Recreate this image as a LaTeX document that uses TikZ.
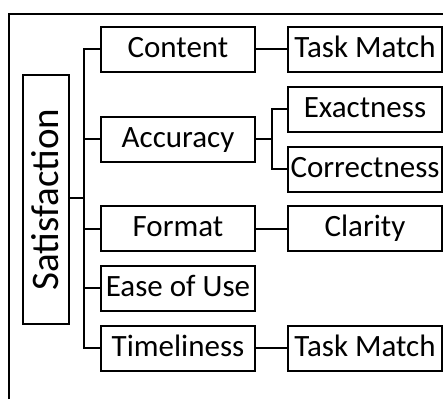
\documentclass[tikz,border=0pt]{standalone}
\usepackage{fontspec}
\setmainfont{Carlito}
\begin{document}
\begin{tikzpicture}[x=1pt,y=-1pt,
  box/.style={draw, line width=2pt, minimum width=154pt, minimum height=45pt, inner sep=0pt, text height=22pt, text depth=6pt, font=\fontsize{31}{36}\selectfont},
  rootbox/.style={draw, line width=2pt, minimum width=249pt, minimum height=46pt, inner sep=0pt, text height=27pt, text depth=2pt, rotate=90, font=\fontsize{39}{44}\selectfont},
  link/.style={line width=2pt}]
\useasboundingbox (0,0) rectangle (443,399);
\draw[line width=2pt] (9,399) -- (9,14) -- (443,14);
\node[rootbox] (sat) at (45.5,199.5) {Satisfaction};
\node[box] (content) at (178,49) {Content};
\node[box] (tm1) at (365,49) {Task Match};
\node[box] (acc) at (178,139) {Accuracy};
\node[box] (exa) at (365,109) {Exactness};
\node[box] (cor) at (365,169) {Correctness};
\node[box] (fmt) at (178,228.5) {Format};
\node[box] (cla) at (365,228.5) {Clarity};
\node[box] (ease) at (178,288) {Ease of Use};
\node[box] (tim) at (178,348) {Timeliness};
\node[box] (tm2) at (365,348) {Task Match};
\coordinate (trunk) at (84,198);
\coordinate (sub) at (272,139);
\draw[link] (sat.south |- trunk) -- (trunk);
\draw[link] (content.west) -| (trunk) |- (tim.west);
\draw[link] (acc.west) -- (acc.west -| trunk);
\draw[link] (fmt.west) -- (fmt.west -| trunk);
\draw[link] (ease.west) -- (ease.west -| trunk);
\draw[link] (content.east) -- (tm1.west);
\draw[link] (fmt.east) -- (cla.west);
\draw[link] (tim.east) -- (tm2.west);
\draw[link] (acc.east) -- (sub);
\draw[link] (exa.west) -| (sub) |- (cor.west);
\end{tikzpicture}
\end{document}
